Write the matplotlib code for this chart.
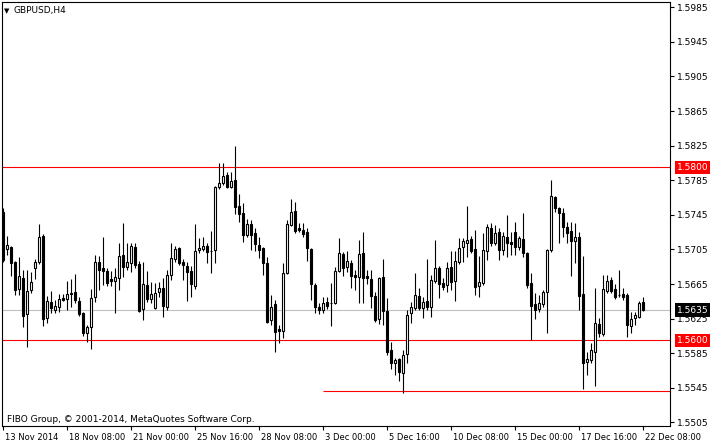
import numpy as np
import pandas as pd
import matplotlib
matplotlib.use('Agg')
import matplotlib.pyplot as plt
import matplotlib.transforms as mtransforms

# GBPUSD H4 candles, first bar 13 Nov 2014 16:00
opens = [1.5748, 1.5706, 1.5708, 1.5690, 1.5659, 1.5672, 1.5630, 1.5658, 1.5683, 1.5690,
         1.5721, 1.5626, 1.5644, 1.5635, 1.5639, 1.5649, 1.5648, 1.5654, 1.5656, 1.5645,
         1.5632, 1.5608, 1.5615, 1.5650, 1.5690, 1.5684, 1.5680, 1.5671, 1.5669, 1.5672,
         1.5699, 1.5685, 1.5689, 1.5708, 1.5688, 1.5636, 1.5664, 1.5648, 1.5637, 1.5656,
         1.5661, 1.5639, 1.5676, 1.5694, 1.5707, 1.5690, 1.5686, 1.5680, 1.5663, 1.5704,
         1.5706, 1.5709, 1.5703, 1.5704, 1.5777, 1.5782, 1.5791, 1.5777, 1.5785, 1.5755,
         1.5747, 1.5722, 1.5734, 1.5724, 1.5710, 1.5707, 1.5689, 1.5624, 1.5642, 1.5613,
         1.5611, 1.5678, 1.5733, 1.5749, 1.5730, 1.5728, 1.5725, 1.5706, 1.5664, 1.5639,
         1.5635, 1.5644, 1.5643, 1.5643, 1.5680, 1.5700, 1.5685, 1.5689, 1.5676, 1.5673,
         1.5701, 1.5674, 1.5671, 1.5651, 1.5625, 1.5673, 1.5634, 1.5589, 1.5574, 1.5578,
         1.5562, 1.5584, 1.5632, 1.5637, 1.5651, 1.5637, 1.5645, 1.5639, 1.5669, 1.5684,
         1.5666, 1.5664, 1.5685, 1.5669, 1.5690, 1.5708, 1.5713, 1.5717, 1.5706, 1.5663,
         1.5666, 1.5703, 1.5730, 1.5713, 1.5725, 1.5704, 1.5719, 1.5714, 1.5725, 1.5708,
         1.5717, 1.5701, 1.5666, 1.5642, 1.5636, 1.5642, 1.5656, 1.5704, 1.5766, 1.5753,
         1.5747, 1.5731, 1.5726, 1.5715, 1.5719, 1.5654, 1.5575, 1.5577, 1.5587, 1.5619,
         1.5607, 1.5657, 1.5670, 1.5659, 1.5652, 1.5654, 1.5652, 1.5617, 1.5626, 1.5627,
         1.5644]
highs = [1.5753, 1.5721, 1.5709, 1.5692, 1.5696, 1.5681, 1.5681, 1.5679, 1.5694, 1.5734,
         1.5723, 1.5651, 1.5657, 1.5647, 1.5654, 1.5654, 1.5669, 1.5671, 1.5677, 1.5650,
         1.5633, 1.5618, 1.5659, 1.5699, 1.5697, 1.5719, 1.5684, 1.5680, 1.5684, 1.5713,
         1.5736, 1.5713, 1.5713, 1.5713, 1.5692, 1.5690, 1.5680, 1.5667, 1.5666, 1.5667,
         1.5672, 1.5681, 1.5713, 1.5709, 1.5708, 1.5694, 1.5690, 1.5686, 1.5734, 1.5718,
         1.5719, 1.5713, 1.5726, 1.5778, 1.5805, 1.5805, 1.5795, 1.5795, 1.5825, 1.5769,
         1.5759, 1.5740, 1.5739, 1.5730, 1.5719, 1.5708, 1.5696, 1.5652, 1.5647, 1.5618,
         1.5689, 1.5739, 1.5763, 1.5760, 1.5736, 1.5736, 1.5730, 1.5707, 1.5666, 1.5643,
         1.5650, 1.5650, 1.5666, 1.5685, 1.5718, 1.5702, 1.5703, 1.5693, 1.5681, 1.5716,
         1.5725, 1.5681, 1.5681, 1.5656, 1.5673, 1.5694, 1.5649, 1.5598, 1.5580, 1.5580,
         1.5589, 1.5635, 1.5644, 1.5678, 1.5661, 1.5650, 1.5694, 1.5676, 1.5716, 1.5686,
         1.5672, 1.5690, 1.5703, 1.5703, 1.5718, 1.5718, 1.5755, 1.5721, 1.5728, 1.5697,
         1.5724, 1.5734, 1.5736, 1.5733, 1.5730, 1.5725, 1.5745, 1.5725, 1.5737, 1.5721,
         1.5747, 1.5702, 1.5678, 1.5655, 1.5652, 1.5658, 1.5706, 1.5785, 1.5767, 1.5754,
         1.5753, 1.5737, 1.5737, 1.5736, 1.5725, 1.5697, 1.5587, 1.5597, 1.5661, 1.5626,
         1.5676, 1.5676, 1.5673, 1.5665, 1.5681, 1.5661, 1.5655, 1.5633, 1.5633, 1.5645,
         1.5650]
lows = [1.5690, 1.5699, 1.5674, 1.5652, 1.5652, 1.5615, 1.5592, 1.5655, 1.5671, 1.5688,
        1.5617, 1.5620, 1.5632, 1.5632, 1.5633, 1.5645, 1.5635, 1.5639, 1.5643, 1.5628,
        1.5605, 1.5598, 1.5590, 1.5644, 1.5658, 1.5664, 1.5663, 1.5663, 1.5632, 1.5658,
        1.5673, 1.5681, 1.5679, 1.5684, 1.5633, 1.5624, 1.5644, 1.5643, 1.5636, 1.5650,
        1.5627, 1.5635, 1.5670, 1.5690, 1.5687, 1.5670, 1.5645, 1.5650, 1.5659, 1.5701,
        1.5703, 1.5689, 1.5678, 1.5689, 1.5775, 1.5780, 1.5776, 1.5776, 1.5746, 1.5737,
        1.5714, 1.5719, 1.5704, 1.5703, 1.5695, 1.5676, 1.5620, 1.5618, 1.5587, 1.5597,
        1.5603, 1.5677, 1.5732, 1.5724, 1.5725, 1.5719, 1.5692, 1.5647, 1.5632, 1.5630,
        1.5632, 1.5636, 1.5617, 1.5642, 1.5679, 1.5674, 1.5679, 1.5661, 1.5658, 1.5643,
        1.5643, 1.5665, 1.5637, 1.5621, 1.5619, 1.5618, 1.5583, 1.5567, 1.5560, 1.5553,
        1.5539, 1.5574, 1.5620, 1.5635, 1.5635, 1.5626, 1.5635, 1.5627, 1.5666, 1.5649,
        1.5658, 1.5656, 1.5658, 1.5645, 1.5688, 1.5690, 1.5696, 1.5701, 1.5652, 1.5650,
        1.5664, 1.5693, 1.5709, 1.5710, 1.5693, 1.5699, 1.5696, 1.5699, 1.5699, 1.5704,
        1.5696, 1.5661, 1.5600, 1.5625, 1.5633, 1.5639, 1.5608, 1.5702, 1.5748, 1.5713,
        1.5719, 1.5713, 1.5674, 1.5689, 1.5635, 1.5544, 1.5560, 1.5574, 1.5547, 1.5604,
        1.5605, 1.5655, 1.5655, 1.5648, 1.5650, 1.5647, 1.5604, 1.5608, 1.5618, 1.5626,
        1.5634]
closes = [1.5693, 1.5710, 1.5689, 1.5658, 1.5674, 1.5628, 1.5657, 1.5667, 1.5690, 1.5719,
          1.5625, 1.5645, 1.5637, 1.5640, 1.5648, 1.5647, 1.5654, 1.5655, 1.5647, 1.5630,
          1.5608, 1.5615, 1.5649, 1.5690, 1.5681, 1.5680, 1.5666, 1.5669, 1.5673, 1.5697,
          1.5685, 1.5690, 1.5709, 1.5687, 1.5634, 1.5665, 1.5648, 1.5654, 1.5655, 1.5661,
          1.5640, 1.5676, 1.5695, 1.5706, 1.5689, 1.5687, 1.5679, 1.5665, 1.5703, 1.5707,
          1.5709, 1.5702, 1.5703, 1.5777, 1.5782, 1.5790, 1.5777, 1.5784, 1.5754, 1.5746,
          1.5722, 1.5734, 1.5722, 1.5711, 1.5704, 1.5689, 1.5621, 1.5639, 1.5610, 1.5611,
          1.5678, 1.5734, 1.5748, 1.5726, 1.5728, 1.5723, 1.5707, 1.5665, 1.5639, 1.5635,
          1.5643, 1.5640, 1.5643, 1.5680, 1.5701, 1.5683, 1.5692, 1.5674, 1.5673, 1.5700,
          1.5672, 1.5672, 1.5651, 1.5624, 1.5672, 1.5634, 1.5587, 1.5574, 1.5577, 1.5563,
          1.5583, 1.5629, 1.5639, 1.5652, 1.5637, 1.5644, 1.5639, 1.5670, 1.5683, 1.5665,
          1.5662, 1.5684, 1.5667, 1.5692, 1.5707, 1.5715, 1.5716, 1.5703, 1.5662, 1.5667,
          1.5704, 1.5731, 1.5713, 1.5724, 1.5704, 1.5721, 1.5713, 1.5711, 1.5708, 1.5718,
          1.5701, 1.5664, 1.5640, 1.5635, 1.5643, 1.5656, 1.5704, 1.5767, 1.5753, 1.5747,
          1.5731, 1.5724, 1.5715, 1.5719, 1.5651, 1.5574, 1.5578, 1.5589, 1.5620, 1.5608,
          1.5659, 1.5669, 1.5657, 1.5650, 1.5652, 1.5650, 1.5618, 1.5625, 1.5629, 1.5643,
          1.5635]

first_bar = '2014-11-13 16:00'
x_tick_times = ['2014-11-13 16:00', '2014-11-18 08:00', '2014-11-21 00:00', '2014-11-25 16:00',
                '2014-11-28 08:00', '2014-12-03 00:00', '2014-12-05 16:00', '2014-12-10 08:00',
                '2014-12-15 00:00', '2014-12-17 16:00', '2014-12-22 08:00']
x_tick_labels = ['13 Nov 2014', '18 Nov 08:00', '21 Nov 00:00', '25 Nov 16:00', '28 Nov 08:00',
                 '3 Dec 00:00', '5 Dec 16:00', '10 Dec 08:00', '15 Dec 00:00', '17 Dec 16:00',
                 '22 Dec 08:00']
y_ticks = [1.5985, 1.5945, 1.5905, 1.5865, 1.5825, 1.5785, 1.5745, 1.5705,
           1.5665, 1.5625, 1.5585, 1.5545, 1.5505]

level_lines = [1.5800, 1.5600]
support_line = 1.5541
support_start = '2014-12-03 00:00'
bid = closes[-1]

# H4 bar times, weekends skipped
times = pd.date_range(first_bar, periods=300, freq='4h')
times = times[times.dayofweek < 5][:len(opens)]
idx = np.arange(len(opens))
tick_pos = [int(np.where(times == pd.Timestamp(t))[0][0]) for t in x_tick_times]
support_x = int(np.where(times == pd.Timestamp(support_start))[0][0])

plt.rcParams['font.family'] = ['DejaVu Sans']

fig = plt.figure(figsize=(7.1, 4.45), dpi=100)
fig.patch.set_facecolor('white')
ax = fig.add_axes([2 / 710, 19 / 445, 668 / 710, 424 / 445])
ax.set_facecolor('white')

ax.set_xlim(-0.25, 166.75)
ax.set_ylim(1.55009, 1.59911)

# level lines
for lv in level_lines:
    ax.axhline(lv, color='#ff0000', linewidth=0.8, zorder=1)
ax.hlines(support_line, support_x, 166.75, color='#ff0000', linewidth=0.8, zorder=1)
ax.axhline(bid, color='#c0c0c0', linewidth=0.8, zorder=1)

# candles
o = np.array(opens)
c = np.array(closes)
ax.vlines(idx, lows, highs, color='black', linewidth=0.8, zorder=2)
up = c >= o
ax.bar(idx[up], (c - o)[up], bottom=o[up], width=0.5, facecolor='white',
       edgecolor='black', linewidth=0.8, zorder=3)
ax.bar(idx[~up], (o - c)[~up], bottom=c[~up], width=0.5, facecolor='black',
       edgecolor='black', linewidth=0.8, zorder=3)

# axes
for sp in ax.spines.values():
    sp.set_color('black')
    sp.set_linewidth(0.8)
ax.yaxis.tick_right()
ax.set_yticks(y_ticks)
ax.set_yticklabels(['%.4f' % v for v in y_ticks])
ax.set_xticks(tick_pos)
ax.set_xticklabels(x_tick_labels)
ax.tick_params(axis='both', direction='out', length=3, width=0.8, colors='black',
               labelsize=6.5, pad=2)
ax.tick_params(axis='x', labelsize=6.0)
shift = mtransforms.ScaledTranslation(2 / 100, 0, fig.dpi_scale_trans)
for lab in ax.get_xticklabels():
    lab.set_horizontalalignment('left')
    lab.set_transform(lab.get_transform() + shift)

# price boxes on the right scale
trans = mtransforms.blended_transform_factory(ax.transAxes, ax.transData)
for lv in level_lines:
    ax.text(1.0105, lv, '%.4f' % lv, transform=trans, color='white', fontsize=6.5,
            va='center', ha='left', clip_on=False, zorder=5,
            bbox=dict(boxstyle='square,pad=0.25', facecolor='#ff0000', edgecolor='none'))
ax.text(1.0105, bid, '%.4f' % bid, transform=trans, color='white', fontsize=6.5,
        va='center', ha='left', clip_on=False, zorder=5,
        bbox=dict(boxstyle='square,pad=0.25', facecolor='black', edgecolor='none'))

# header and footer texts
fig.text(4 / 710, 1 - 11 / 445, '\u25bc', fontsize=5, va='center', ha='left')
fig.text(13 / 710, 1 - 11 / 445, 'GBPUSD,H4', fontsize=6.5, va='center', ha='left')
fig.text(7 / 710, 1 - 419 / 445, 'FIBO Group, \u00a9 2001-2014, MetaQuotes Software Corp.',
         fontsize=6.5, va='center', ha='left')

fig.savefig('out.png', dpi=100, facecolor='white')
